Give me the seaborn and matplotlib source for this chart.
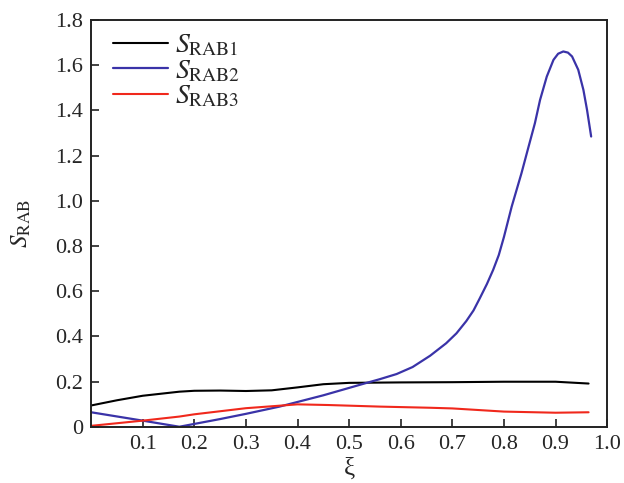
import seaborn as sns
import matplotlib.pyplot as plt
import pandas as pd
import numpy as np

# values
xi_1 = [0.0, 0.05, 0.1, 0.171, 0.2, 0.25, 0.3, 0.35, 0.4, 0.45, 0.5, 0.6, 0.7, 0.8, 0.9, 0.964]
s_rab1 = [0.095, 0.118, 0.138, 0.156, 0.16, 0.161, 0.159, 0.162, 0.175, 0.189, 0.195, 0.197, 0.198, 0.2, 0.2, 0.192]

xi_2 = [0.0, 0.1, 0.171, 0.25, 0.3, 0.365, 0.45, 0.534, 0.559, 0.592, 0.623, 0.657, 0.688, 0.708,
        0.727, 0.741, 0.753, 0.767, 0.779, 0.79, 0.8, 0.815, 0.834, 0.847, 0.86, 0.87, 0.883,
        0.896, 0.905, 0.915, 0.924, 0.932, 0.944, 0.954, 0.961, 0.965, 0.969]
s_rab2 = [0.065, 0.028, 0.001, 0.035, 0.058, 0.09, 0.14, 0.195, 0.211, 0.234, 0.265, 0.315, 0.37, 0.414,
          0.468, 0.515, 0.568, 0.632, 0.694, 0.76, 0.84, 0.974, 1.122, 1.233, 1.343, 1.446, 1.549,
          1.623, 1.65, 1.66, 1.655, 1.638, 1.579, 1.49, 1.402, 1.343, 1.284]

xi_3 = [0.0, 0.1, 0.171, 0.2, 0.3, 0.4, 0.46, 0.56, 0.656, 0.7, 0.8, 0.9, 0.964]
s_rab3 = [0.005, 0.028, 0.046, 0.056, 0.083, 0.1, 0.097, 0.09, 0.085, 0.082, 0.068, 0.063, 0.065]

x_ticks = [0.1, 0.2, 0.3, 0.4, 0.5, 0.6, 0.7, 0.8, 0.9, 1.0]
y_ticks = [0, 0.2, 0.4, 0.6, 0.8, 1.0, 1.2, 1.4, 1.6, 1.8]

sns.set_theme(style="ticks")
plt.rcParams['font.family'] = ['Liberation Serif', 'DejaVu Serif']
plt.rcParams['mathtext.fontset'] = 'stix'

fig, ax = plt.subplots(figsize=(6.24, 4.83), dpi=100)
fig.subplots_adjust(left=0.146, right=0.973, top=0.959, bottom=0.116)

sns.lineplot(x=xi_1, y=s_rab1, ax=ax, color="#000000", lw=1.5, sort=False, label=r"$S_{\rm RAB1}$")
sns.lineplot(x=xi_2, y=s_rab2, ax=ax, color="#3a33a8", lw=1.6, sort=False, label=r"$S_{\rm RAB2}$")
sns.lineplot(x=xi_3, y=s_rab3, ax=ax, color="#f0281c", lw=1.5, sort=False, label=r"$S_{\rm RAB3}$")

ax.set_xlim(0, 1.0)
ax.set_ylim(0, 1.8)
ax.set_xticks(x_ticks)
ax.set_yticks(y_ticks)
ax.set_xticklabels(['{:.1f}'.format(v) for v in x_ticks])
ax.set_yticklabels(['0'] + ['{:.1f}'.format(v) for v in y_ticks[1:]])
ax.tick_params(direction='in', length=6, width=1.2, labelsize=16, color='#222222', pad=6)

for sp in ax.spines.values():
    sp.set_linewidth(1.4)
    sp.set_color('#222222')

ax.set_xlabel("ξ", fontsize=18, labelpad=2)
ax.set_ylabel(r"$S_{\rm RAB}$", fontsize=18, labelpad=16)

ax.legend(loc='upper left', frameon=False, fontsize=20, handlelength=2.0,
          labelspacing=0.0, borderaxespad=0.0, handletextpad=0.25,
          bbox_to_anchor=(0.02, 0.995))

fig.savefig("out.png", dpi=100)
